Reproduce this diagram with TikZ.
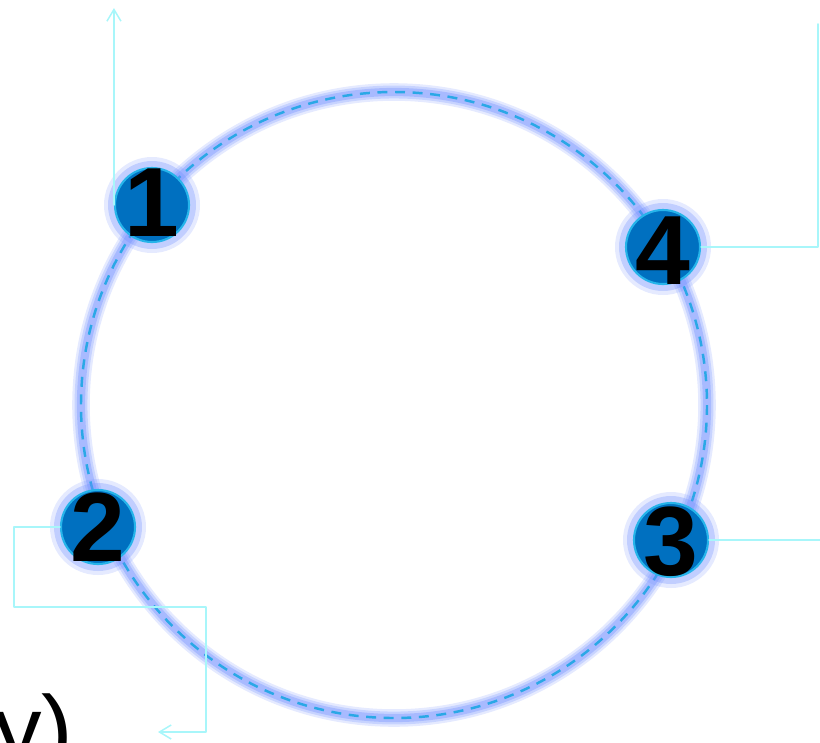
\documentclass[tikz,border=0pt]{standalone}
\usepackage{fontspec}
\setmainfont{Liberation Sans}
\usepackage{xcolor}
\usepackage{tikz}
\usetikzlibrary{
  arrows.meta,
  calc,
  positioning
}
\definecolor{RingDash}{HTML}{2AA8E6}
\definecolor{RingGlow}{HTML}{6E8CFF}
\definecolor{StopFill}{HTML}{0070C0}
\definecolor{StopRim}{HTML}{26B4EA}
\definecolor{LeadCyan}{HTML}{A8F6FA}
\tikzset{
  every picture/.style = {line join=round, line cap=round},
  ring glow/.style = {draw=RingGlow, line width=#1},
  ring dash/.style = {draw=RingDash, line width=2.1pt, dash pattern=on 8.5pt off 6.5pt, line cap=butt},
  stop halo/.style = {circle, fill=RingGlow, minimum size=#1, inner sep=0pt},
  stop/.style = {
    circle,
    draw=StopRim,
    fill=StopFill,
    line width=1.8pt,
    minimum size=74*0.03cm,
    inner sep=0pt
  },
  stop digit/.style = {
    font=\fontsize{84}{84}\selectfont\bfseries,
    text=black,
    inner sep=0pt
  },
  lead/.style = {draw=LeadCyan, line width=1.3pt},
  lead arrow/.style = {lead, -{Straight Barb[length=10pt,width=12pt]}},
  big text/.style = {font=\fontsize{81}{81}\selectfont, text=black, inner sep=0pt}
}

\begin{document}
\begin{tikzpicture}[x=0.03cm,y=-0.03cm]
  \useasboundingbox (0,0) rectangle (820,742);

  % ring with glow
  \foreach \w/\o in {15pt/0.18,11pt/0.25,7pt/0.35}
    \draw[ring glow=\w, opacity=\o] (394,405) circle[radius=313];
  \draw[ring dash] (394,405) circle[radius=313];

  % halos behind the stops
  \foreach \p in {(152,205),(663,247),(671,540),(98,527)} {
    \node[stop halo=96*0.03cm, opacity=0.18] at \p {};
    \node[stop halo=88*0.03cm, opacity=0.3] at \p {};
  }

  \node[stop] (n1) at (152,205) {};
  \node[stop] (n4) at (663,247) {};
  \node[stop] (n3) at (671,540) {};
  \node[stop] (n2) at (98,527) {};

  \node[stop digit] (d1) at ($(n1)+(0,-2)$) {1};
  \node[stop digit] (d4) at ($(n4)+(0,4)$) {4};
  \node[stop digit] (d3) at ($(n3)+(0,2)$) {3};
  \node[stop digit] (d2) at ($(n2)+(0,0)$) {2};

  % leads
  \coordinate (up1) at (118,8);
  \coordinate (up4) at (818,24);
  \coordinate (out3) at (822,540);
  \coordinate (back2) at (158,732);

  \draw[lead arrow] (n1.west) -- (n1.west |- up1);
  \draw[lead] (n4.east) -| (up4);
  \draw[lead] (n3.east) -- (out3);
  \draw[lead arrow] (n2.west) -| (14,607) -| (206,732) -- (back2);

  % cut-off text
  \node[big text, anchor=base west] (ytail) at (-6,762) {y)};
\end{tikzpicture}
\end{document}
